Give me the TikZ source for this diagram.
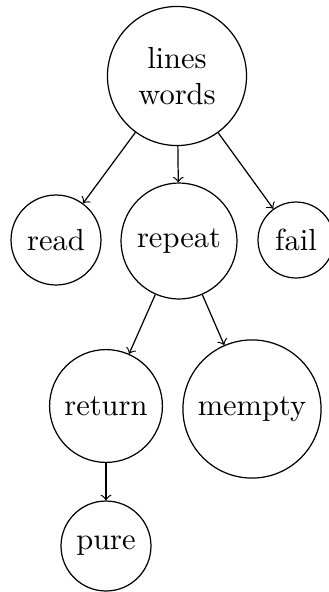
\documentclass[tikz,border=0pt]{standalone}
\begin{document}
\begin{tikzpicture}[x=0.3279pt, y=-0.3279pt,
  nd/.style={draw, circle, inner sep=0pt, align=center},
  conn/.style={->}]
\useasboundingbox (0,0) rectangle (328,592);
\node[nd, minimum size=45.6pt] (top) at (177,76) {lines\\words};
\node[nd, minimum size=29.5pt] (read) at (56,240) {read};
\node[nd, minimum size=38pt] (repeat) at (179,241) {repeat};
\node[nd, minimum size=24.9pt] (fail) at (296,240) {fail};
\node[nd, minimum size=37pt] (return) at (106,406) {return};
\node[nd, minimum size=45.3pt] (mempty) at (252,409) {mempty};
\node[nd, minimum size=29.5pt] (pure) at (106,546) {pure};
\draw[conn] (top) -- (read);
\draw[conn] (top) -- (repeat);
\draw[conn] (top) -- (fail);
\draw[conn] (repeat) -- (return);
\draw[conn] (repeat) -- (mempty);
\draw[conn] (return) -- (pure);
\end{tikzpicture}
\end{document}
